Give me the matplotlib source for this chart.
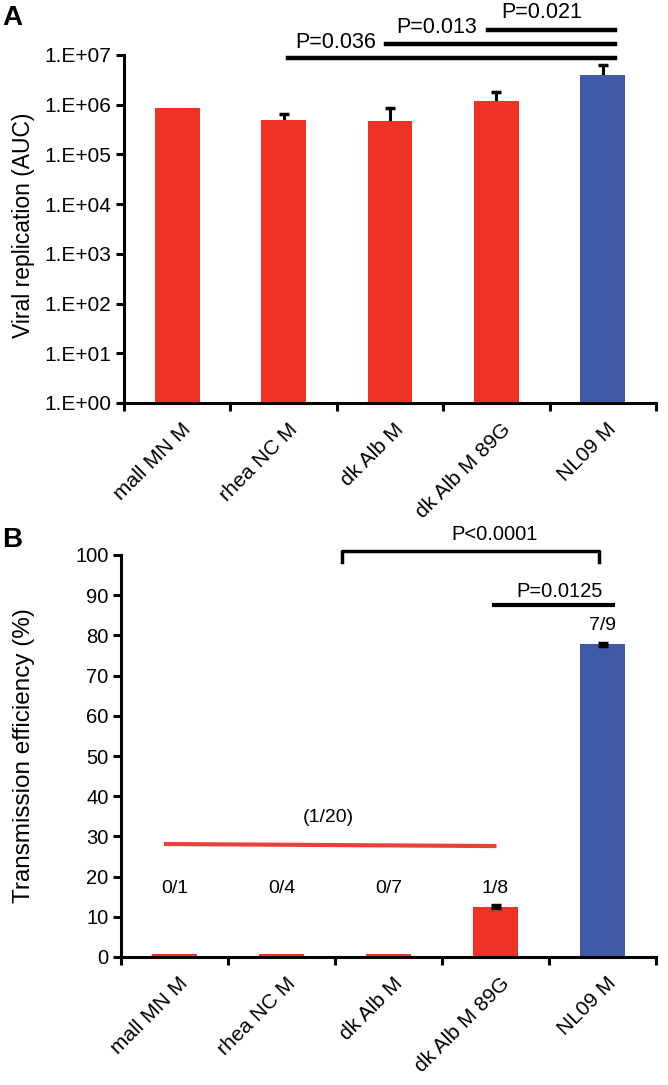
import matplotlib.pyplot as plt
import matplotlib.transforms as mtransforms
import numpy as np

strains = ["mall MN M", "rhea NC M", "dk Alb M", "dk Alb M 89G", "NL09 M"]
auc = [8.7e5, 5.0e5, 4.6e5, 1.17e6, 4.0e6]
auc_err = [0, 1.6e5, 4.1e5, 6.3e5, 2.2e6]
trans = [0.8, 0.8, 0.8, 12.5, 77.8]
trans_err = [0, 0, 0, 0.4, 0.4]
ratios = ["0/1", "0/4", "0/7", "1/8", "7/9"]

red = "#EE3325"
blue = "#3F5AA6"
colors = [red, red, red, red, blue]

plt.rcParams['font.family'] = ['Liberation Sans', 'DejaVu Sans']

fig = plt.figure(figsize=(6.68, 10.85), dpi=100)
axA = fig.add_axes([124 / 668, 1 - 403 / 1085, 532 / 668, 348 / 1085])
axB = fig.add_axes([121 / 668, 1 - 957 / 1085, 535 / 668, 402 / 1085])

x = np.arange(len(strains))


def style(ax, fs):
    for s in ["top", "right"]:
        ax.spines[s].set_visible(False)
    for s in ["left", "bottom"]:
        ax.spines[s].set_linewidth(2.2)
    ax.tick_params(axis="both", width=2.2, length=6, labelsize=fs, pad=3)
    ax.set_xlim(-0.5, 4.5)
    ax.set_xticks(np.arange(-0.5, 5, 1))
    ax.set_xticklabels([])
    ax.set_xticks(x, minor=True)
    ax.set_xticklabels(strains, minor=True, rotation=45, ha="right", va="top",
                       rotation_mode="anchor", fontsize=15)
    ax.tick_params(axis="x", which="minor", length=0, pad=12)
    shift = mtransforms.ScaledTranslation(4 / 100, 0, fig.dpi_scale_trans)
    for lab in ax.get_xticklabels(minor=True):
        lab.set_transform(lab.get_transform() + shift)


# panel A: error bars drawn behind the bars so only the upper half shows
axA.bar(x, auc, width=0.42, color=colors, zorder=2)
axA.errorbar(x[1:], auc[1:], yerr=auc_err[1:], fmt="none", ecolor="black",
             elinewidth=2.2, capsize=3.5, capthick=2.5, zorder=1)
axA.set_yscale("log")
axA.set_ylim(1, 1e7)
axA.set_yticks([10.0 ** k for k in range(8)])
axA.set_yticklabels(["1.E+%02d" % k for k in range(8)])
axA.minorticks_off()
style(axA, 15)
axA.set_ylabel("Viral replication (AUC)", fontsize=16.5)
axA.yaxis.set_label_coords(-0.168, 0.51)

sigA = [(1.04, 10 ** 6.94, "P=0.036", 1.49, 10 ** 7.25),
        (1.96, 10 ** 7.22, "P=0.013", 2.44, 10 ** 7.56),
        (2.92, 10 ** 7.50, "P=0.021", 3.43, 10 ** 7.86)]
for x0, yl, lab, xt, yt in sigA:
    axA.plot([x0, 4.11], [yl, yl], color="black", lw=3.2, clip_on=False)
    axA.text(xt, yt, lab, ha="center", va="center", fontsize=15.5)

# panel B
axB.bar(x, trans, width=0.42, color=colors, zorder=2)
axB.errorbar(x[3:], trans[3:], yerr=trans_err[3:], fmt="none", ecolor="black",
             elinewidth=2, capsize=3.5, capthick=2.5, zorder=3)
axB.set_ylim(0, 100)
axB.set_yticks(range(0, 101, 10))
style(axB, 14.5)
axB.set_ylabel("Transmission efficiency (%)", fontsize=17.5)
axB.yaxis.set_label_coords(-0.161, 0.5)

for i, r in enumerate(ratios[:4]):
    axB.text(i, 17.1, r, ha="center", va="center", fontsize=14)
axB.text(4, 82.4, ratios[4], ha="center", va="center", fontsize=14)
axB.plot([-0.08, 2.99], [28.1, 27.6], color="#E8413A", lw=3)
axB.text(1.44, 34.6, "(1/20)", ha="center", va="center", fontsize=14)

axB.plot([1.57, 1.57, 3.97, 3.97], [98.3, 101, 101, 98.3], color="black", lw=2.5,
         clip_on=False)
axB.text(2.99, 105.2, "P<0.0001", ha="center", va="center", fontsize=14.5)
axB.plot([2.99, 4.1], [87.5, 87.5], color="black", lw=3)
axB.text(3.6, 91, "P=0.0125", ha="center", va="center", fontsize=14.5)

fig.text(2 / 668, 1 - 18 / 1085, "A", fontsize=20, fontweight="bold",
         ha="left", va="center")
fig.text(2 / 668, 1 - 540 / 1085, "B", fontsize=20, fontweight="bold",
         ha="left", va="center")

fig.savefig("out.png", dpi=100)
